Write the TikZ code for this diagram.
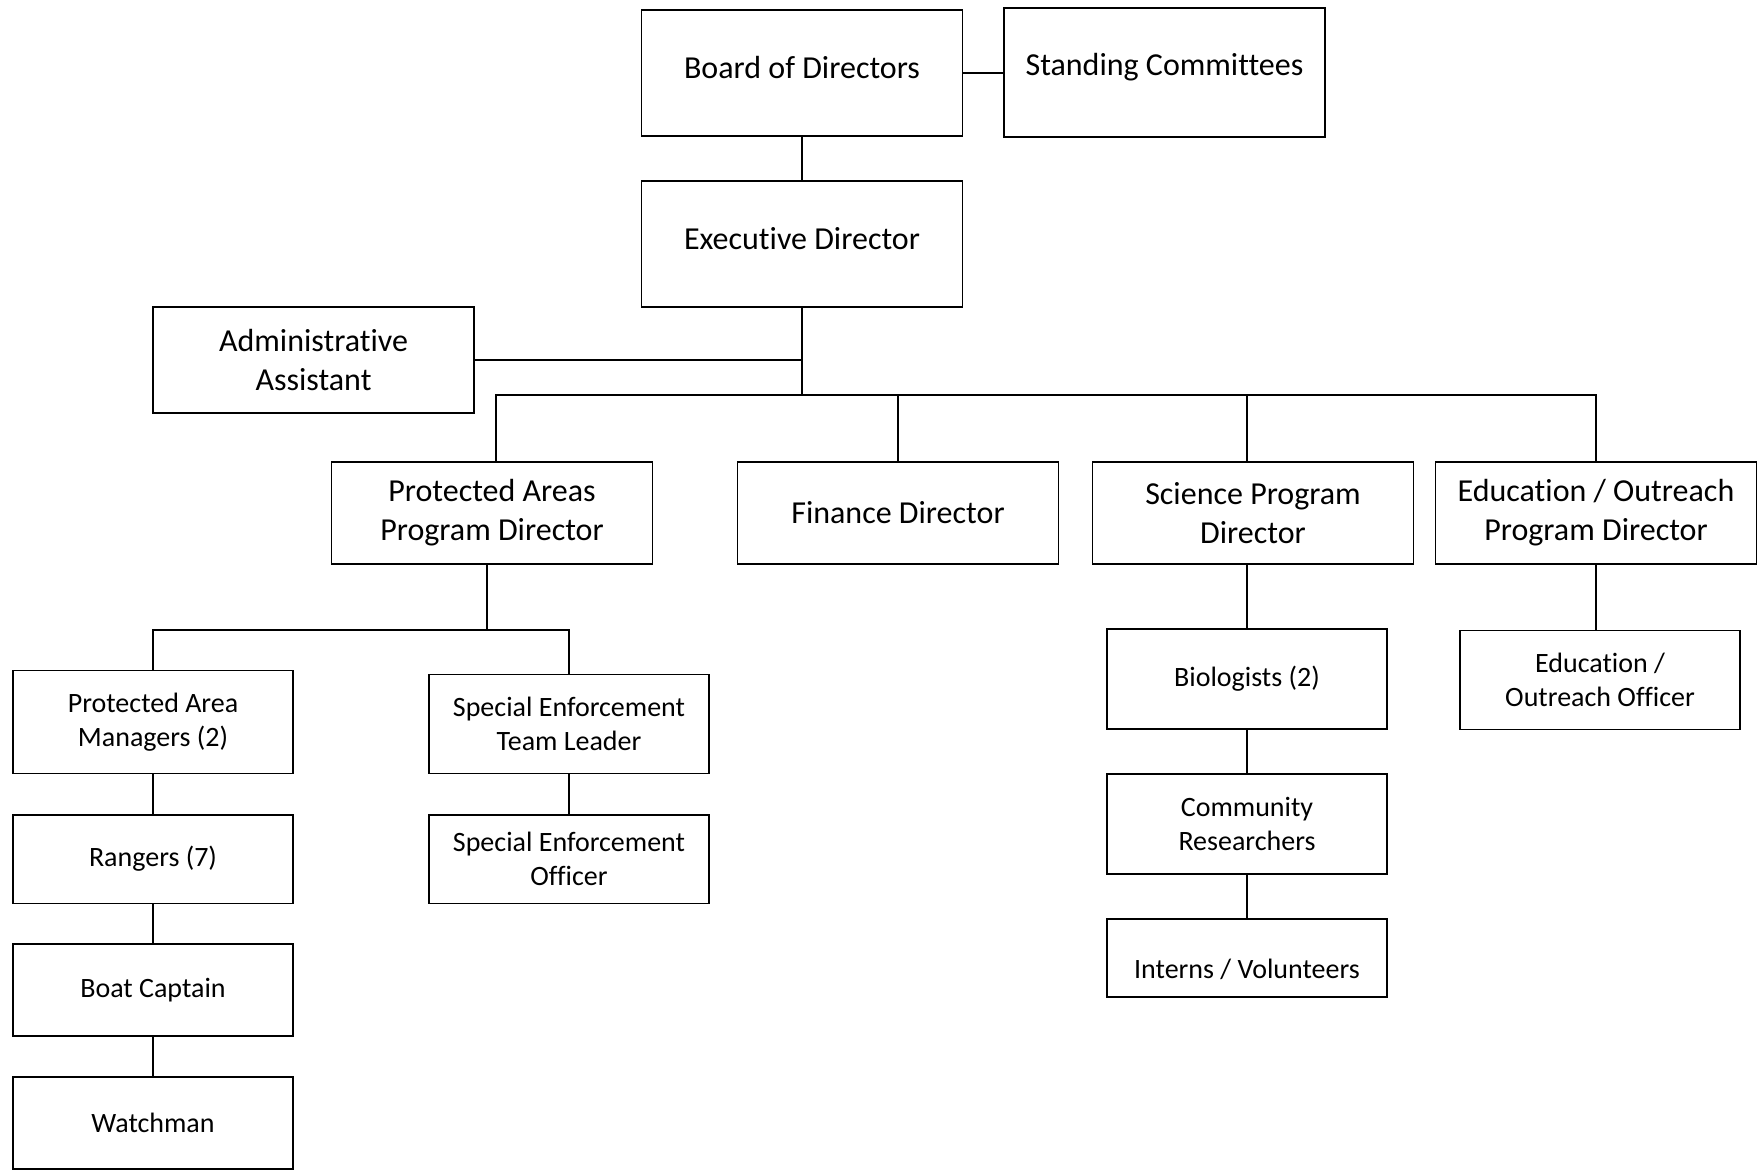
\documentclass[tikz,border=0pt]{standalone}
\usepackage{fontspec}
\setmainfont{Carlito}[Ligatures={NoCommon,NoContextual,NoRequired}]
\usepackage{tikz}

\begin{document}
\begin{tikzpicture}[
  x=0.5pt, y=-0.5pt,
  head/.style={
    rectangle,
    draw=black,
    line width=0.8pt,
    align=center,
    font=\fontsize{16pt}{19.5pt}\selectfont,
    minimum width=160.5pt,
    minimum height=51pt,
    inner sep=0pt
  },
  staff/.style={
    rectangle,
    draw=black,
    line width=0.8pt,
    align=center,
    font=\fontsize{14pt}{17pt}\selectfont,
    minimum width=140pt,
    minimum height=50pt,
    inner sep=0pt
  },
  tie/.style={line width=0.65pt}
]
\useasboundingbox (0,0) rectangle (1761,1172);

\node[head, minimum height=63pt] (board) at (802,73) {\rule[-5.6pt]{0pt}{0pt}Board of Directors};
\node[head, minimum height=64.5pt] (committees) at (1164.5,72.5) {\rule[-8.6pt]{0pt}{0pt}Standing Committees};
\node[head, minimum height=63pt] (exec) at (802,244) {\rule[-5.6pt]{0pt}{0pt}Executive Director};
\node[head, minimum height=53pt] (admin) at (313.5,360) {Administrative\\Assistant};

\node[head] (protected) at (492,513) {Protected Areas\\Program Director};
\node[head] (finance) at (898,513) {Finance Director};
\node[head] (science) at (1253,513) {Science Program\\Director};
\node[head] (education) at (1596,513) {Education / Outreach\\Program Director};

\node[staff, minimum height=51.5pt] (managers) at (153,722) {Protected Area\\Managers (2)};
\node[staff, minimum height=49.5pt] (teamlead) at (569,724) {Special Enforcement\\Team Leader};
\node[staff, minimum height=44.3pt] (rangers) at (153,859) {Rangers (7)};
\node[staff, minimum height=44.3pt] (officer) at (569,859) {Special Enforcement\\Officer};
\node[staff, minimum height=46pt] (captain) at (153,990) {Boat Captain};
\node[staff, minimum height=46pt] (watchman) at (153,1123) {Watchman};

\node[staff] (biologists) at (1247,679) {Biologists (2)};
\node[staff] (community) at (1247,824) {Community\\Researchers};
\node[staff, minimum height=38.75pt] (interns) at (1247,958) {\rule{0pt}{21pt}Interns / Volunteers};
\node[staff, minimum height=49.5pt] (eduofficer) at (1600,680) {Education /\\Outreach Officer};

\coordinate (hub) at (802,395);
\coordinate (pahub) at (487,630);

\draw[tie] (board.east) -- (committees.west |- board.east);
\draw[tie] (board.south) -- (exec.north);
\draw[tie] (exec.south) -- (hub);
\draw[tie] (admin.east) -- (admin.east -| hub);
\draw[tie] ([xshift=2pt]protected.north) |- (hub) -| (education.north);
\draw[tie] (finance.north) -- (finance.north |- hub);
\draw[tie] (biologists.north |- hub) -- (biologists.north |- science.north);

\draw[tie] (protected.south -| pahub) -- (pahub);
\draw[tie] (managers.north) |- (pahub) -| (teamlead.north);
\draw[tie] (managers.south) -- (rangers.north);
\draw[tie] (rangers.south) -- (captain.north);
\draw[tie] (captain.south) -- (watchman.north);
\draw[tie] (teamlead.south) -- (officer.north);

\draw[tie] (biologists.north |- science.south) -- (biologists.north);
\draw[tie] (biologists.south) -- (community.north);
\draw[tie] (community.south) -- (interns.north);
\draw[tie] (education.south) -- (education.south |- eduofficer.north);

\end{tikzpicture}
\end{document}
